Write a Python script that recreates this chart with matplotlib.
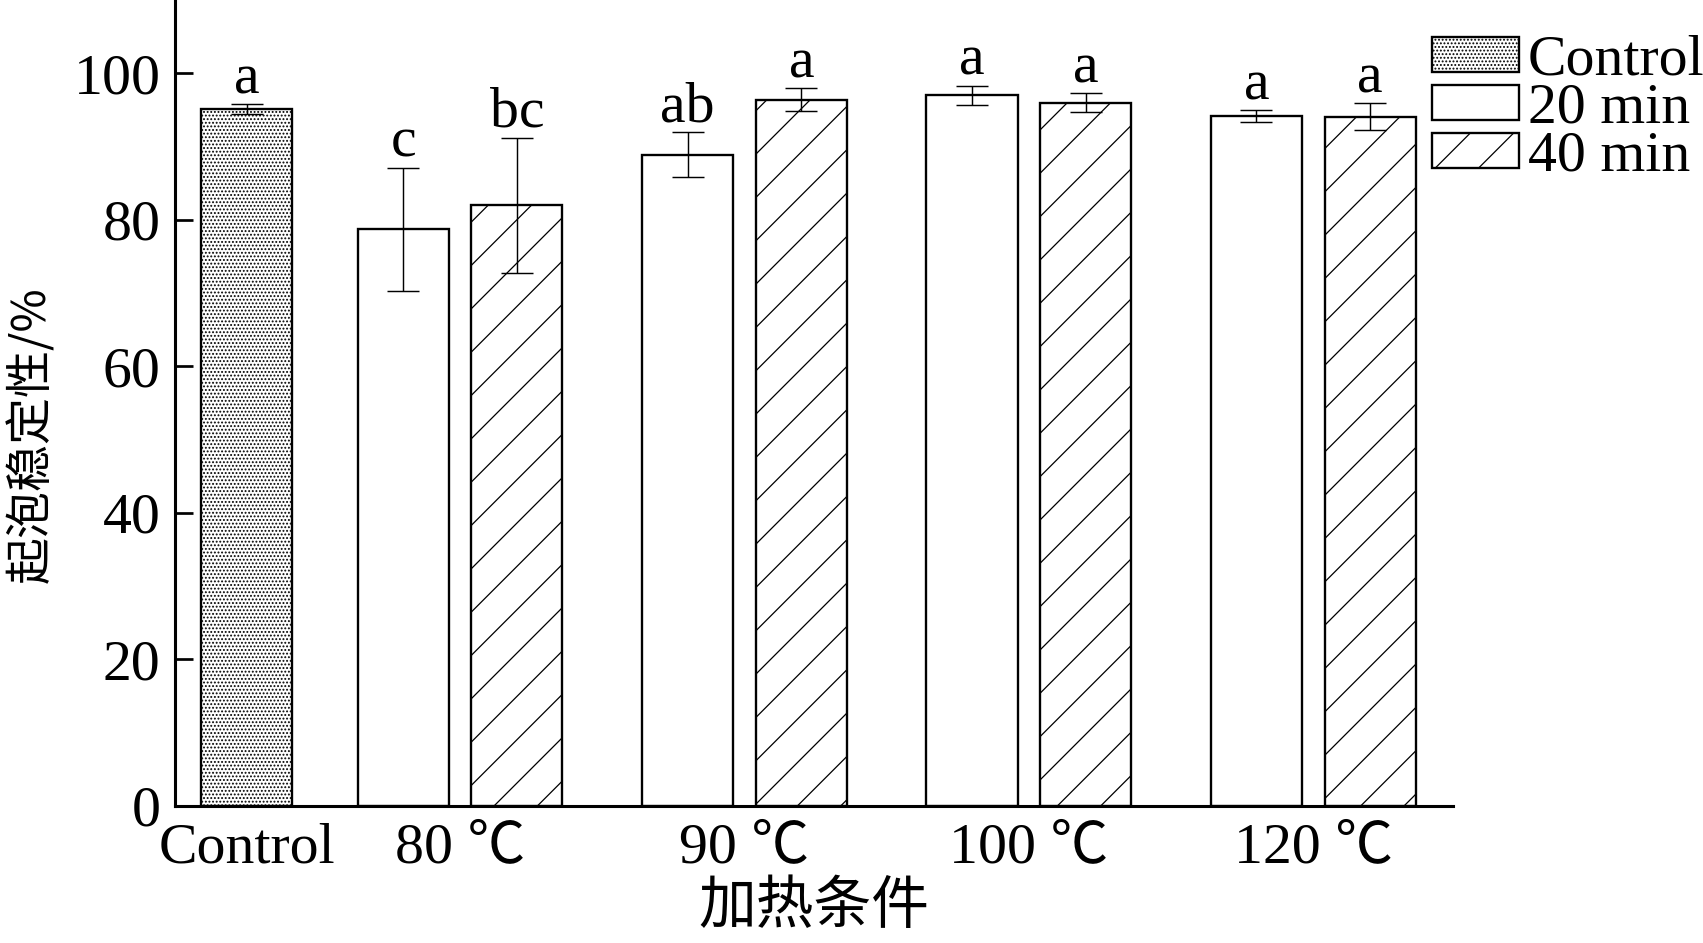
import matplotlib
matplotlib.use("Agg")
import matplotlib.pyplot as plt
import numpy as np

# data
groups = ["80 ℃", "90 ℃", "100 ℃", "120 ℃"]
control_mean = 95.1
control_err = 0.7
control_letter = "a"
mean_20 = [78.7, 88.9, 97.0, 94.2]
err_20 = [8.4, 3.1, 1.3, 0.8]
letters_20 = ["c", "ab", "a", "a"]
mean_40 = [82.0, 96.4, 96.0, 94.1]
err_40 = [9.2, 1.6, 1.3, 1.8]
letters_40 = ["bc", "a", "a", "a"]

serif = ["Liberation Serif", "Noto Sans CJK SC", "DejaVu Serif"]
cjk = ["Noto Sans CJK SC", "DejaVu Sans"]
plt.rcParams["font.family"] = serif
plt.rcParams["hatch.linewidth"] = 0.7

DPI = 130
fig = plt.figure(figsize=(1703 / DPI, 943 / DPI), dpi=DPI)
ax = fig.add_axes([0.1028, 0.1453, 0.7502, 0.8547])

width = 0.32
offset = 0.2
ctrl_x = 0.0
group_x = np.arange(len(groups)) + 0.75
x20 = group_x - offset
x40 = group_x + offset

bar_kw = dict(width=width, edgecolor="black", linewidth=1.3, zorder=2)
ax.bar([ctrl_x], [control_mean], color="white", hatch="......", label="Control", **bar_kw)
ax.bar(x20, mean_20, color="white", label="20 min", **bar_kw)
ax.bar(x40, mean_40, color="white", hatch="/", label="40 min", **bar_kw)

err_kw = dict(fmt="none", ecolor="black", elinewidth=0.8, capsize=9, capthick=0.8, zorder=3)
ax.errorbar([ctrl_x], [control_mean], yerr=[control_err], **err_kw)
ax.errorbar(x20, mean_20, yerr=err_20, **err_kw)
ax.errorbar(x40, mean_40, yerr=err_40, **err_kw)

def put_letters(xs, means, errs, letters):
    for x, m, e, t in zip(xs, means, errs, letters):
        ax.annotate(t, (x, m + e), xytext=(0, 6), textcoords="offset points",
                    ha="center", va="baseline", fontsize=32, family=serif)

put_letters([ctrl_x], [control_mean], [control_err], [control_letter])
put_letters(x20, mean_20, err_20, letters_20)
put_letters(x40, mean_40, err_40, letters_40)

ax.set_xlim(-0.252, 4.24)
ax.set_ylim(0, 110)
ax.set_yticks(np.arange(0, 101, 20))
ax.set_xticks([ctrl_x] + list(group_x))
ax.set_xticklabels(["Control"] + groups, family=serif)

for s in ["top", "right"]:
    ax.spines[s].set_visible(False)
for s in ["left", "bottom"]:
    ax.spines[s].set_linewidth(1.7)

ax.tick_params(axis="y", direction="in", length=10, width=1.5, labelsize=32, pad=8)
ax.tick_params(axis="x", length=0, labelsize=32, pad=9)

ax.set_ylabel("起泡稳定性/%", fontsize=26, family=cjk)
ax.yaxis.set_label_coords(-0.0926, 0.461)
ax.set_xlabel("加热条件", fontsize=32, family=cjk, labelpad=2)

leg = fig.legend(loc="upper left", bbox_to_anchor=(0.841, 0.963), frameon=False,
                 fontsize=32, handlelength=1.5, handleheight=0.55,
                 handletextpad=0.15, labelspacing=-0.07, borderpad=0, borderaxespad=0)

fig.savefig("out.png", dpi=DPI)
